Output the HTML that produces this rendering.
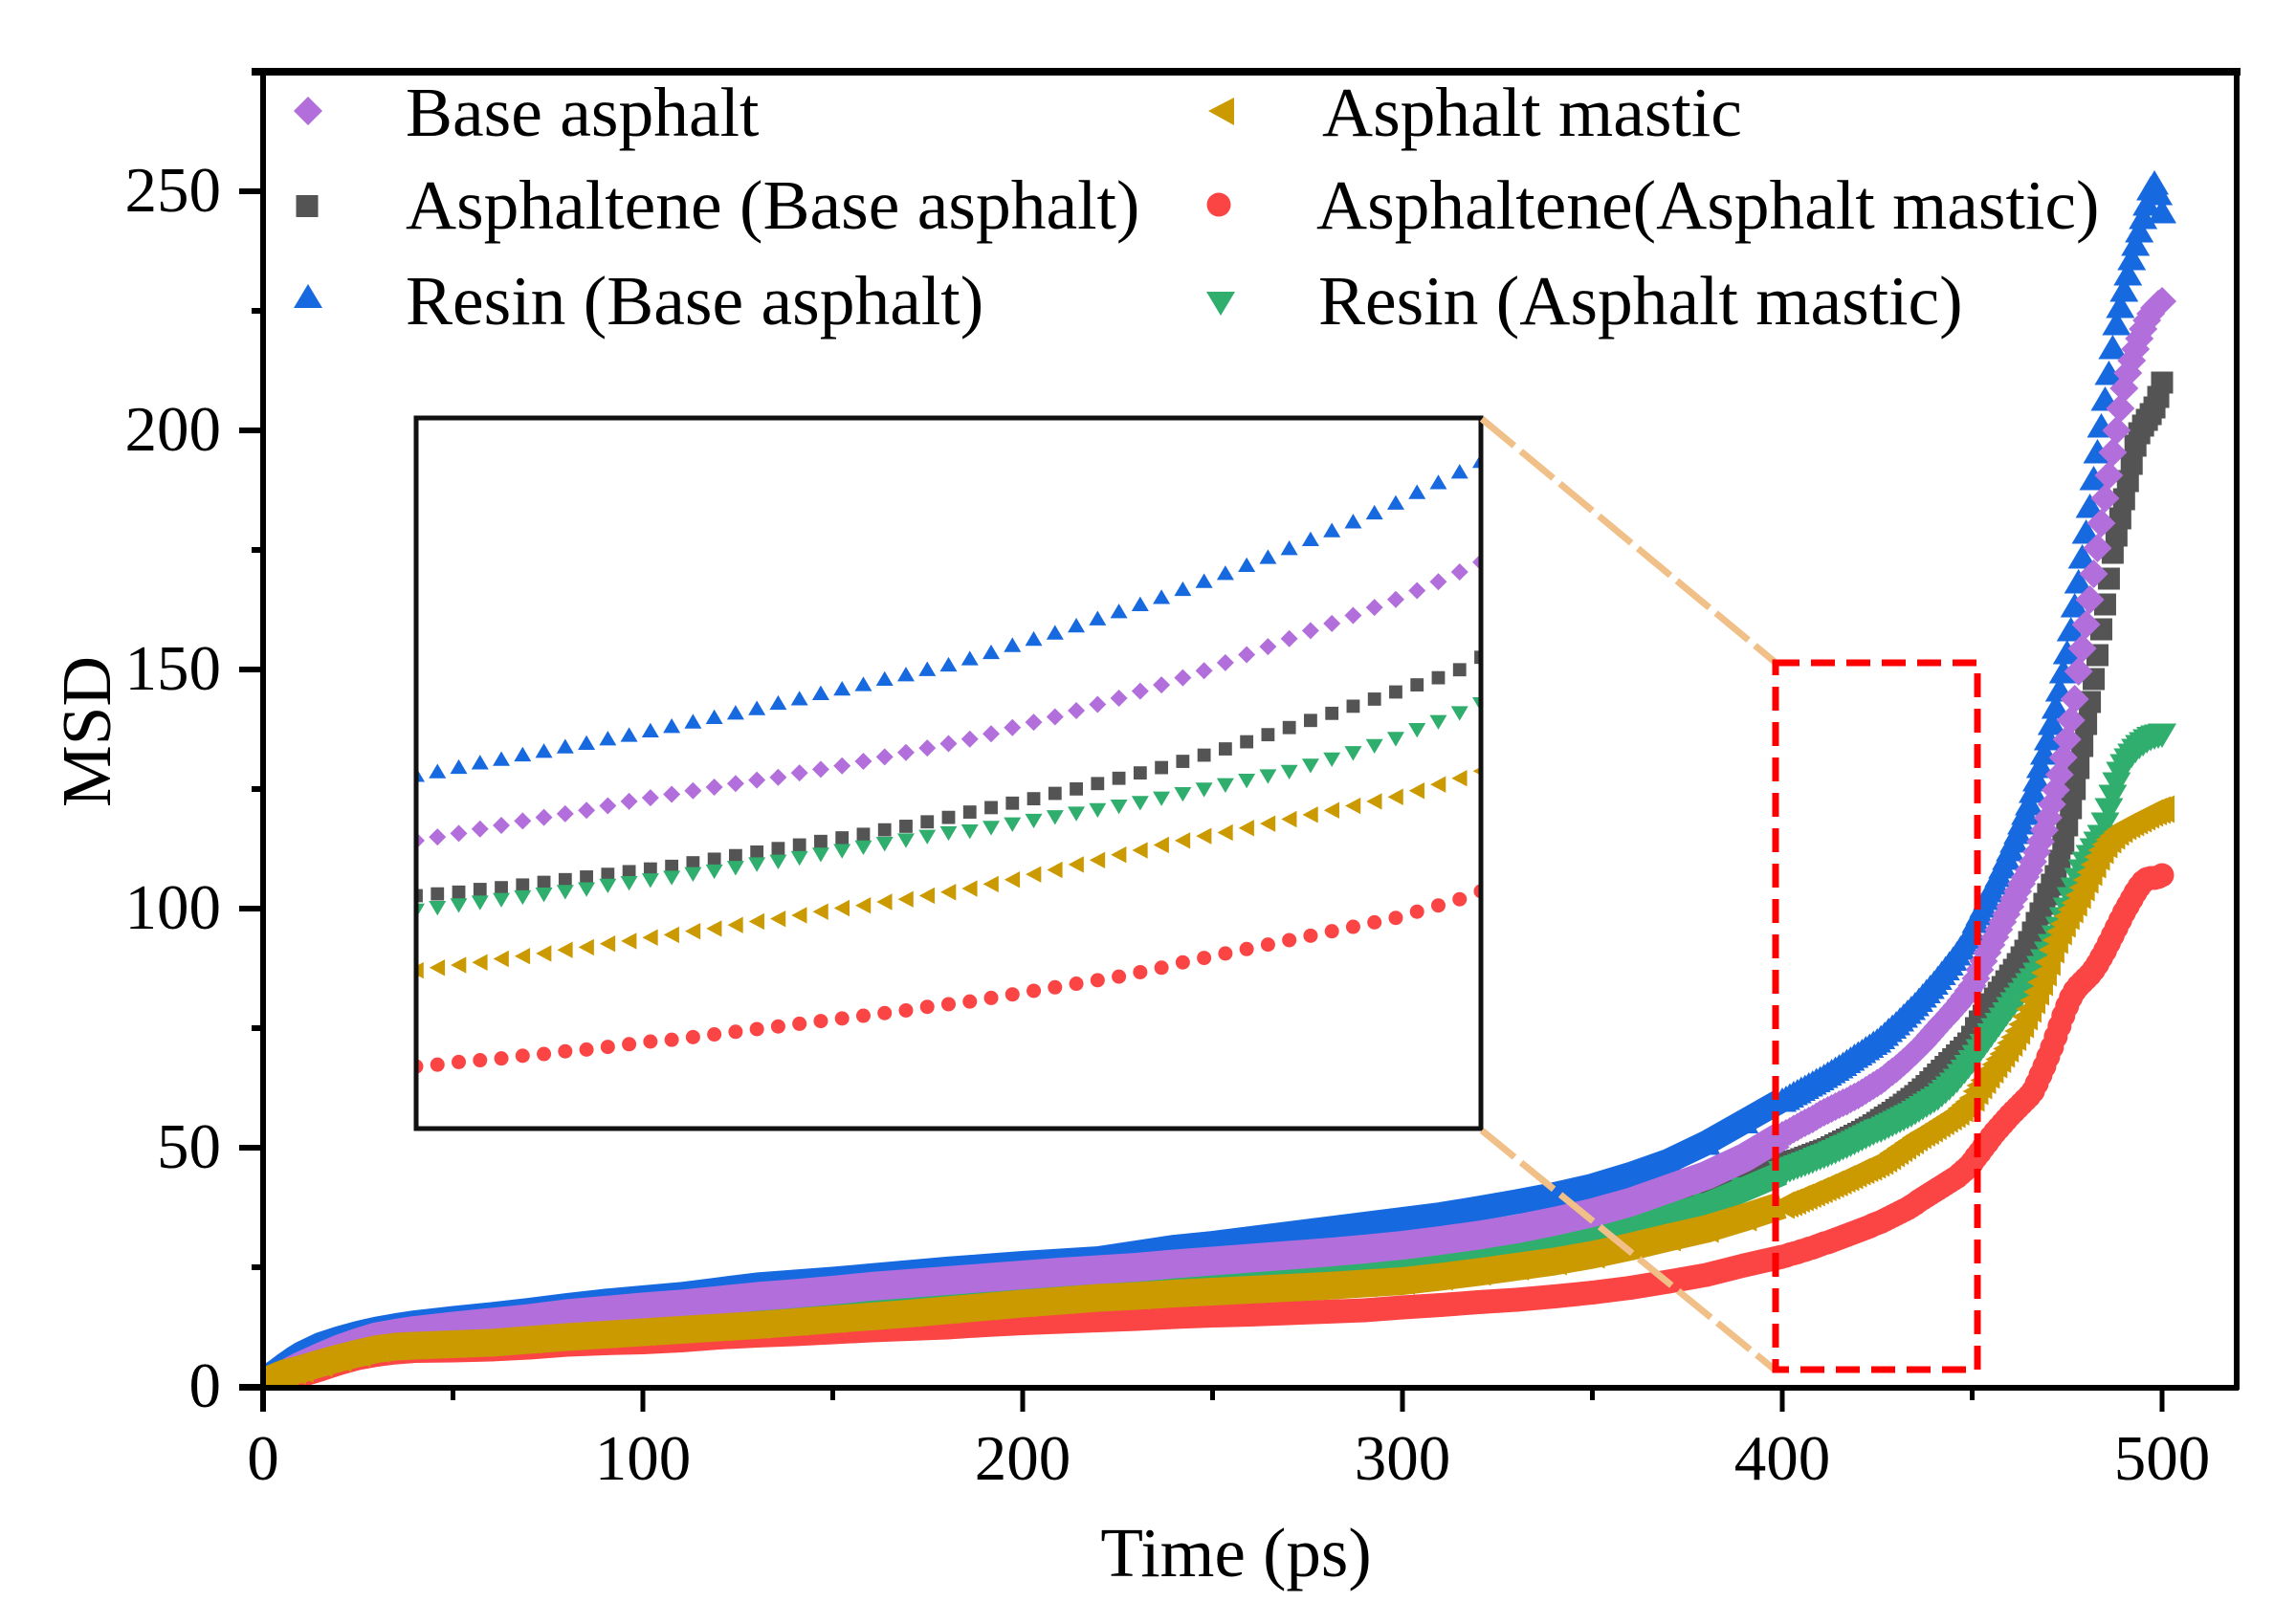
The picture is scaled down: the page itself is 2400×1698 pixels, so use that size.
<!DOCTYPE html>
<html lang="en">
<head>
<meta charset="utf-8">
<title>MSD vs Time</title>
<style>
html,body{margin:0;padding:0;background:#fff;}
svg{display:block;}
text{font-family:"Liberation Serif",serif;fill:#000;}
.leg{font-size:73.5px;}
.tick{font-size:67px;}
.axt{font-size:73px;}
</style>
</head>
<body>
<svg id="chart" width="2400" height="1698" viewBox="0 0 2400 1698" xmlns="http://www.w3.org/2000/svg">
<defs>
<clipPath id="mainClip"><rect x="275" y="75" width="2063" height="1375"/></clipPath>
<clipPath id="insetClip"><rect x="435" y="437" width="1113" height="743"/></clipPath>
</defs>
<rect width="2400" height="1698" fill="#fff"/>
<g id="mainMarks" clip-path="url(#mainClip)"></g>
<g id="axes"></g>
<line x1="263" y1="75" x2="2342" y2="75" stroke="#000" stroke-width="8"/>
<line x1="2338" y1="72" x2="2338" y2="1453" stroke="#000" stroke-width="6"/>
<line x1="275" y1="72" x2="275" y2="1476" stroke="#000" stroke-width="6"/>
<line x1="250" y1="1451" x2="2340" y2="1451" stroke="#000" stroke-width="6"/>
<rect x="435" y="437" width="1113" height="743" fill="#fff" stroke="none"/>
<g id="insetMarks" clip-path="url(#insetClip)"></g>
<rect x="435" y="437" width="1113" height="743" fill="none" stroke="#111" stroke-width="5"/>
<line x1="1549" y1="438" x2="1855" y2="692" stroke="#f0c088" stroke-width="7" stroke-dasharray="44 9"/>
<line x1="1549" y1="1182" x2="1855" y2="1432" stroke="#f0c088" stroke-width="7" stroke-dasharray="44 9"/>
<rect x="1856" y="693" width="211" height="739" fill="none" stroke="#ff0000" stroke-width="7" stroke-dasharray="25 12"/>

<text class="axt" x="1292" y="1648" text-anchor="middle">Time (ps)</text>
<text class="axt" transform="translate(115 765) rotate(-90)" text-anchor="middle">MSD</text>

<g>
<g>
<polygon points="322,101 337,116 322,131 307,116" fill="#b26fdb"/>
<text class="leg" x="424" y="142">Base asphalt</text></g>
<g>
<rect x="309.5" y="204" width="23" height="23" fill="#545454"/>
<text class="leg" x="424" y="239">Asphaltene (Base asphalt)</text></g>
<g>
<polygon points="322,297 337,322 307,322" fill="#1769e0"/>
<text class="leg" x="424" y="339">Resin (Base asphalt)</text></g>
<g>
<polygon points="1263,116 1290,102 1290,131" fill="#cb9900"/>
<text class="leg" x="1382" y="142">Asphalt mastic</text></g>
<g>
<circle cx="1274" cy="214" r="12.5" fill="#fb4444"/>
<text class="leg" x="1376" y="239">Asphaltene(Asphalt mastic)</text></g>
<g>
<polygon points="1261,305 1291,305 1276,330" fill="#30ae6d"/>
<text class="leg" x="1378" y="339">Resin (Asphalt mastic)</text></g>
</g>
</svg>
<script>
const times = [0,2,4,6,8,10,15,20,25,30,35,40,50,60,70,80,90,100,110,120,130,140,150,160,170,180,190,200,210,220,230,240,250,260,270,280,290,300,310,320,330,340,350,360,370,380,390,
400,401,402,403,404,405,406,407,408,409,410,411,412,413,414,415,416,417,418,419,420,421,422,423,424,425,426,427,428,429,430,431,432,433,434,435,436,437,438,439,440,441,442,443,444,445,446,447,448,449,450,
451,452,453,454,455,456,457,458,459,460,461,462,463,464,465,466,467,468,469,470,471,472,473,474,475,476,477,478,479,480,481,482,483,484,485,486,487,488,489,490,491,492,493,494,495,496,497,498,499,500];

const resinBase = [1,2.5,3.6,4.8,5.9,6.9,8.8,10.1,11.2,12.1,12.8,13.4,14.3,15.1,16,17,17.9,18.6,19.3,20.3,21.3,21.9,22.5,23.2,23.9,24.6,25.2,25.8,26.3,26.8,28,29.2,30,31,32,33,34,35,36,37.3,38.7,40.2,42,44.4,47.2,51,55.5,
60,60.4,60.9,61.4,61.8,62.3,62.7,63.2,63.6,64.1,64.5,65,65.5,66,66.5,67,67.5,68.1,68.6,69.2,69.7,70.2,70.8,71.3,71.9,72.4,73.1,73.8,74.6,75.3,76,76.8,77.6,78.4,79.2,80,80.9,81.8,82.7,83.6,84.5,85.5,86.5,87.5,88.5,89.5,90.6,91.8,92.9,94.1,95.3,
97.4,99,100.6,102.2,103.8,105.4,107,108.8,110.6,112.4,114.2,116,118,120,122,124.6,127,129.8,132.6,135.6,138.8,142.2,145.8,149.6,153.6,158.4,163.4,168.4,173.6,178.8,184.2,190,195.6,201,206.6,212,217.4,222.4,226,229.4,232.8,236,239,241.8,244.6,247.4,250.6,251.8,249.6,245.8];

const baseAsphalt = [0.6,1.2,1.8,2.6,3.6,4.4,6.2,7.9,9.3,10.5,11.2,11.8,12.7,13.5,14.3,15.3,16,16.7,17.3,18.1,18.9,19.5,20.2,21,21.6,22.2,22.8,23.4,24,24.5,25,25.7,26.3,26.9,27.5,28.1,28.8,29.6,30.6,31.7,33,34.6,36.4,38.6,41.4,44.2,47.9,
52.6,53,53.4,53.9,54.3,54.8,55.2,55.6,56,56.5,57,57.4,57.8,58.2,58.6,59,59.4,59.7,60.2,60.6,61,61.5,62,62.5,63,63.5,64,64.6,65.3,65.9,66.5,67.2,67.9,68.6,69.4,70.1,70.9,71.7,72.6,73.5,74.4,75.3,76.2,77,77.9,78.8,79.7,80.7,81.7,82.8,83.9,
85.4,87.2,89,90.8,92.4,94,95.6,97.2,98.8,100.4,102,103.6,105.2,106.6,108,109.8,111.8,114,116.4,119,121.8,124.8,128,131.6,135.4,139.4,143.8,149.6,154.4,159.4,164.6,170,175.4,180.6,185.8,190.6,195.4,200,204.6,208.8,212,214.6,217,219.2,221.2,223,224.4,225.6,226.4,227];

const asphalteneBase = [0.5,1.2,1.9,2.6,3.3,4,5.4,6.7,7.8,8.5,9,9.3,10,10.6,11.2,11.9,12.5,13.1,13.7,14.3,14.9,15.5,16.1,16.7,17.3,17.9,18.5,19.1,19.6,20.2,20.7,21.3,21.9,22.5,23.2,24,25,26.2,27.5,29,30.8,32.8,35,37.4,39.8,42,44.3,
46.4,46.6,46.8,47.1,47.3,47.6,47.9,48.2,48.5,48.8,49.1,49.4,49.7,50.1,50.5,50.9,51.3,51.7,52.1,52.5,52.9,53.3,53.8,54.2,54.7,55.2,55.8,56.3,56.8,57.3,57.9,58.4,59,59.6,60.2,60.8,61.5,62.2,62.9,63.7,64.5,65.3,66.1,66.9,67.7,68.5,69.3,70.1,70.9,71.8,73.2,
75,76.4,77.6,78.8,80,81.2,82.4,83.6,84.8,86,87.2,88.4,89.8,91.2,93,95,97,99,101,103,105,106.8,110,113.6,117.4,121,125,129.4,134,138.6,143.2,148,153,158.4,163.6,169,174.4,178,181.6,185.6,189.4,193,196.8,199.4,201,202.2,203.4,204.8,207,210];

const resinMastic = [0.4,1,1.7,2.4,3.1,3.8,5.2,6.5,7.6,8.2,8.7,9,9.6,10.2,10.8,11.5,12.1,12.7,13.3,13.9,14.5,15,15.6,16.2,16.7,17.3,17.9,18.4,18.9,19.5,20,20.6,21.2,21.9,22.6,23.4,24.3,25.2,26.2,27.3,28.6,30,31.7,33.5,35.7,38,41.3,
44.7,45,45.3,45.6,45.9,46.2,46.5,46.8,47.1,47.5,47.8,48.1,48.4,48.8,49.1,49.5,49.9,50.2,50.6,51,51.4,51.8,52.2,52.6,53,53.4,53.6,54,54.4,54.8,55.2,55.6,56,56.4,56.8,57.3,57.8,58.3,58.8,59.3,59.8,60.3,61,61.7,62.4,63.2,64,65,65.9,66.9,67.9,
69,70.2,71.3,72.4,73.5,74.6,75.7,76.8,77.9,79,80,81,82,83,84,85,86.2,87.6,89,90.6,92.2,94,95.8,97.8,99.8,102,104,106,107.8,109.4,110.8,112.2,113.6,115,117.6,120.6,123.4,126,128.2,129.8,131,132,133,133.8,134.4,135,135.5,135.8,136,136.2];

const asphaltMastic = [0.5,1.6,2.3,2.9,3.3,3.7,4.9,6,7,7.9,8.4,8.6,8.9,9.2,9.8,10.4,10.9,11.4,11.9,12.4,12.9,13.5,14.1,14.7,15.3,16,16.7,17.4,18,18.6,19,19.5,19.9,20.3,20.7,21.1,21.6,22.1,23,24,25.1,26.2,27.6,29.3,31.2,33,35.4,
38,38.3,38.6,38.9,39.3,39.6,39.9,40.3,40.6,41,41.3,41.7,42,42.4,42.7,43.1,43.5,43.8,44.2,44.6,45,45.3,45.7,46,46.4,46.8,47.2,47.7,48.2,48.8,49.3,49.9,50.4,51,51.5,52.1,52.6,53.1,53.5,54,54.5,55,55.5,56,56.5,57,57.5,58.2,58.9,59.6,60.4,
61.8,63,64.1,65.2,66.3,67.4,68.5,69.6,70.7,71.9,73.1,74.4,75.8,77.4,79,80.8,82.6,84.6,86.6,88.8,91.4,93.4,95.2,96.8,98.4,99.8,101.2,102.8,104.4,106,107.6,109.2,110.8,112.2,113.4,114.4,115.2,116,116.6,117.2,117.6,118,118.4,118.8,119.2,119.6,120,120.3,120.6,120.8];

const asphalteneMastic = [0,0.2,0.5,1,1.7,2.4,3.6,4.9,6,6.7,7.2,7.5,7.6,7.8,8.2,8.8,9.1,9.3,9.7,10.3,10.7,11,11.4,11.8,12.1,12.4,12.9,13.3,13.6,13.9,14.2,14.6,14.9,15.1,15.4,15.7,16,16.6,17.1,17.7,18.2,18.9,19.7,20.7,22,23.4,25.4,
27.2,27.4,27.7,27.9,28.1,28.4,28.6,28.9,29.1,29.4,29.7,30,30.2,30.5,30.8,31.1,31.4,31.7,32,32.3,32.6,32.9,33.2,33.5,33.9,34.2,34.5,34.9,35.3,35.7,36.1,36.5,36.9,37.3,37.8,38.3,38.9,39.4,39.9,40.4,40.9,41.4,41.9,42.4,42.9,43.4,43.9,44.6,45.3,46,46.9,
48,49,50.1,51.1,52.2,53.2,54.1,55,55.9,56.8,57.6,58.4,59.2,60,60.8,61.8,63.4,65.2,67,69,71,73.2,75.4,77.6,79.6,81.4,82.8,83.8,84.6,85.4,86.2,87.2,88.4,89.8,91.2,92.8,94.4,96,97.6,99.2,100.6,102,103.4,104.6,105.6,106.2,106.4,106.4,106.6,107];

const xMajorTicks = [0,100,200,300,400,500];
const xMinorTicks = [50,150,250,350,450];
const yMajorTicks = [0,50,100,150,200,250];
const yMinorTicks = [25,75,125,175,225];
const insetStart = 400;
const insetEnd = 450;
const denseFrom = 400;

const NS = 'http://www.w3.org/2000/svg';
function xScale(t){ return 275 + 3.97 * t; }
function yScale(v){ return 1450 - 5 * v; }
function insetX(t){ return 435 + 22.26 * (t - 400); }
function insetY(v){ return 1368 - 9.3 * v; }

function markerShape(kind, cx, cy, k, color){
  let el;
  if (kind === 'square') {
    el = document.createElementNS(NS, 'rect');
    el.setAttribute('x', cx - 11.5 * k);
    el.setAttribute('y', cy - 11.5 * k);
    el.setAttribute('width', 23 * k);
    el.setAttribute('height', 23 * k);
  } else if (kind === 'circle') {
    el = document.createElementNS(NS, 'circle');
    el.setAttribute('cx', cx);
    el.setAttribute('cy', cy);
    el.setAttribute('r', 12.5 * k);
  } else {
    el = document.createElementNS(NS, 'polygon');
    let pts;
    if (kind === 'diamond') pts = [[0,-15],[15,0],[0,15],[-15,0]];
    if (kind === 'up') pts = [[0,-13],[15,12.5],[-15,12.5]];
    if (kind === 'down') pts = [[-15,-12.5],[15,-12.5],[0,13]];
    if (kind === 'left') pts = [[-14,0],[13,-14.5],[13,14.5]];
    el.setAttribute('points', pts.map(p => (cx + p[0] * k) + ',' + (cy + p[1] * k)).join(' '));
  }
  el.setAttribute('fill', color);
  return el;
}

const seriesList = [
  {key:'asphaltene-base', values:asphalteneBase, kind:'square', color:'#545454', width:22},
  {key:'resin-base', values:resinBase, kind:'up', color:'#1769e0', width:26},
  {key:'asphaltene-mastic', values:asphalteneMastic, kind:'circle', color:'#fb4444', width:25},
  {key:'resin-mastic', values:resinMastic, kind:'down', color:'#30ae6d', width:26},
  {key:'base-asphalt', values:baseAsphalt, kind:'diamond', color:'#b26fdb', width:30},
  {key:'asphalt-mastic', values:asphaltMastic, kind:'left', color:'#cb9900', width:29}
];

const mainG = document.getElementById('mainMarks');
const insetG = document.getElementById('insetMarks');

seriesList.forEach(function(s){
  const g = document.createElementNS(NS, 'g');
  
  
  const pts = [];
  times.forEach(function(t, i){
    if (t <= denseFrom) pts.push(xScale(t) + ',' + yScale(s.values[i]));
  });
  const band = document.createElementNS(NS, 'polyline');
  band.setAttribute('points', pts.join(' '));
  band.setAttribute('fill', 'none');
  band.setAttribute('stroke', s.color);
  band.setAttribute('stroke-width', s.width);
  band.setAttribute('stroke-linejoin', 'round');
  
  
  g.appendChild(band);
  times.forEach(function(t, i){
    const m = markerShape(s.kind, xScale(t), yScale(s.values[i]), 1, s.color);
    
    
    g.appendChild(m);
  });
  mainG.appendChild(g);

  const ig = document.createElementNS(NS, 'g');
  
  
  times.forEach(function(t, i){
    if (t < insetStart || t > insetEnd) return;
    const m = markerShape(s.kind, insetX(t), insetY(s.values[i]), 0.6, s.color);
    
    
    ig.appendChild(m);
  });
  insetG.appendChild(ig);
});

const axes = document.getElementById('axes');
function tickLine(x1, y1, x2, y2, w){
  const l = document.createElementNS(NS, 'line');
  l.setAttribute('x1', x1);
  l.setAttribute('y1', y1);
  l.setAttribute('x2', x2);
  l.setAttribute('y2', y2);
  l.setAttribute('stroke', '#000');
  l.setAttribute('stroke-width', w);
  return l;
}
xMajorTicks.forEach(function(t){
  const l = tickLine(xScale(t), 1451, xScale(t), 1476, 5);
  
  
  axes.appendChild(l);
  const tx = document.createElementNS(NS, 'text');
  tx.setAttribute('class', 'tick');
  tx.setAttribute('x', xScale(t));
  tx.setAttribute('y', 1547);
  tx.setAttribute('text-anchor', 'middle');
  
  
  tx.textContent = t;
  axes.appendChild(tx);
});
xMinorTicks.forEach(function(t){
  const l = tickLine(xScale(t), 1451, xScale(t), 1464, 5);
  
  
  axes.appendChild(l);
});
yMajorTicks.forEach(function(v){
  const l = tickLine(250, yScale(v), 275, yScale(v), 6);
  
  
  axes.appendChild(l);
  const tx = document.createElementNS(NS, 'text');
  tx.setAttribute('class', 'tick');
  tx.setAttribute('x', 231);
  tx.setAttribute('y', yScale(v) + 21);
  tx.setAttribute('text-anchor', 'end');
  
  
  tx.textContent = v;
  axes.appendChild(tx);
});
yMinorTicks.forEach(function(v){
  const l = tickLine(263, yScale(v), 275, yScale(v), 6);
  
  
  axes.appendChild(l);
});
</script>
</body>
</html>
